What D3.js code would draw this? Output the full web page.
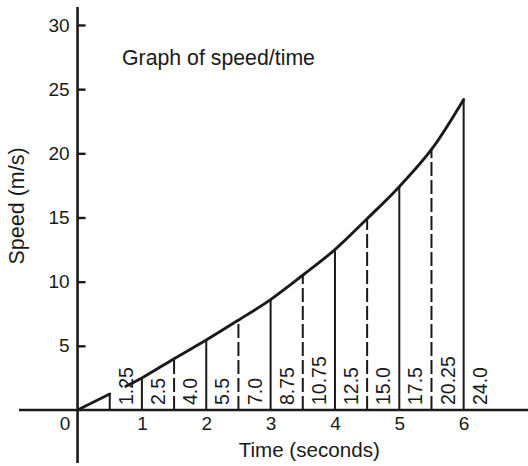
<!DOCTYPE html>
<html>
<head>
<meta charset="utf-8">
<script src="https://cdn.jsdelivr.net/npm/d3@7"></script>
<style>
  html, body { margin: 0; padding: 0; background: #fff; }
  svg { display: block; }
  text { font-family: "Liberation Sans", Arial, Helvetica, sans-serif; fill: #1a1a1a; }
</style>
</head>
<body>
<svg id="chart" width="528" height="466"></svg>
<script>
// ---- data ----
const times = [0.5, 1, 1.5, 2, 2.5, 3, 3.5, 4, 4.5, 5, 5.5, 6];
// speeds as drawn (heights of the strip edges)
const speeds = [1.25, 2.5, 4.0, 5.45, 7.0, 8.6, 10.5, 12.5, 14.9, 17.4, 20.3, 24.2];
const speedLabels = ["1.25", "2.5", "4.0", "5.5", "7.0", "8.75", "10.75", "12.5", "15.0", "17.5", "20.25", "24.0"];
const firstSegment = [[0, 0], [0.5, 1.25]];
const secondSegmentStart = [0.75, 1.85];
const xTicks = [0, 1, 2, 3, 4, 5, 6];
const yTicks = [5, 10, 15, 20, 25, 30];
const title = "Graph of speed/time";
const xTitle = "Time (seconds)";
const yTitle = "Speed (m/s)";

// ---- scales ----
const svg = d3.select("#chart");
const x = d3.scaleLinear().domain([-0.91, 7.0]).range([19, 528]);
const y = d3.scaleLinear().domain([-4.13, 31.4]).range([463, 7]);
const ink = "#1a1a1a";

// vertical strips
times.forEach((t, i) => {
  const dashed = (Math.round(t * 2) % 2 === 1) && t > 0.6;
  svg.append("line")
    .attr("x1", x(t)).attr("x2", x(t))
    .attr("y1", y(0)).attr("y2", y(speeds[i]))
    .attr("stroke", ink)
    .attr("stroke-width", 2)
    .attr("stroke-dasharray", dashed ? "14,4" : null);
});

// curve
const line = d3.line().x(d => x(d[0])).y(d => y(d[1]));
svg.append("path")
  .attr("d", line(firstSegment))
  .attr("fill", "none").attr("stroke", ink).attr("stroke-width", 2.9)
  .attr("stroke-linecap", "round");
const seg2 = [secondSegmentStart].concat(times.slice(1).map((t, i) => [t, speeds[i + 1]]));
svg.append("path")
  .attr("d", line.curve(d3.curveCatmullRom.alpha(0.5))(seg2))
  .attr("fill", "none").attr("stroke", ink).attr("stroke-width", 2.9)
  .attr("stroke-linecap", "round");

// axes lines
svg.append("line")
  .attr("x1", x.range()[0]).attr("x2", x.range()[1])
  .attr("y1", y(0)).attr("y2", y(0))
  .attr("stroke", ink).attr("stroke-width", 2.6);
svg.append("line")
  .attr("x1", x(0)).attr("x2", x(0))
  .attr("y1", y.range()[1]).attr("y2", y.range()[0])
  .attr("stroke", ink).attr("stroke-width", 2.6);

// y axis ticks/labels
const yAxis = svg.append("g")
  .attr("transform", `translate(${x(0)},0)`)
  .call(d3.axisLeft(y).tickValues(yTicks).tickSizeInner(-8).tickSizeOuter(0).tickPadding(8));
yAxis.select(".domain").remove();
yAxis.selectAll(".tick line").attr("stroke", ink).attr("stroke-width", 2.4);
yAxis.selectAll(".tick text").attr("font-size", 19).attr("fill", ink)
  .style("font-family", '"Liberation Sans", Arial, sans-serif');

// x axis labels
const xAxis = svg.append("g")
  .attr("transform", `translate(0,${y(0)})`)
  .call(d3.axisBottom(x).tickValues(xTicks).tickSize(0).tickPadding(7).tickFormat(d3.format("d")));
xAxis.select(".domain").remove();
xAxis.selectAll(".tick text").attr("font-size", 19).attr("fill", ink)
  .style("font-family", '"Liberation Sans", Arial, sans-serif')
  .attr("dx", d => d === 0 ? -13 : 0);

// strip labels
speedLabels.forEach((s, i) => {
  const cx = x(times[i] + 0.25);
  svg.append("text")
    .attr("transform", `translate(${cx},${y(0) - 5}) rotate(-90)`)
    .attr("dy", "0.36em")
    .attr("text-anchor", "start")
    .attr("font-size", 19.5)
    .text(s);
});

// titles
svg.append("text")
  .attr("x", 122).attr("y", 65)
  .attr("font-size", 21.3)
  .text(title);
svg.append("text")
  .attr("x", x(3.6)).attr("y", 457)
  .attr("text-anchor", "middle")
  .attr("font-size", 20.6)
  .text(xTitle);
svg.append("text")
  .attr("transform", `translate(24,${y(15.9)}) rotate(-90)`)
  .attr("text-anchor", "middle")
  .attr("font-size", 21.5)
  .text(yTitle);
</script>
</body>
</html>
